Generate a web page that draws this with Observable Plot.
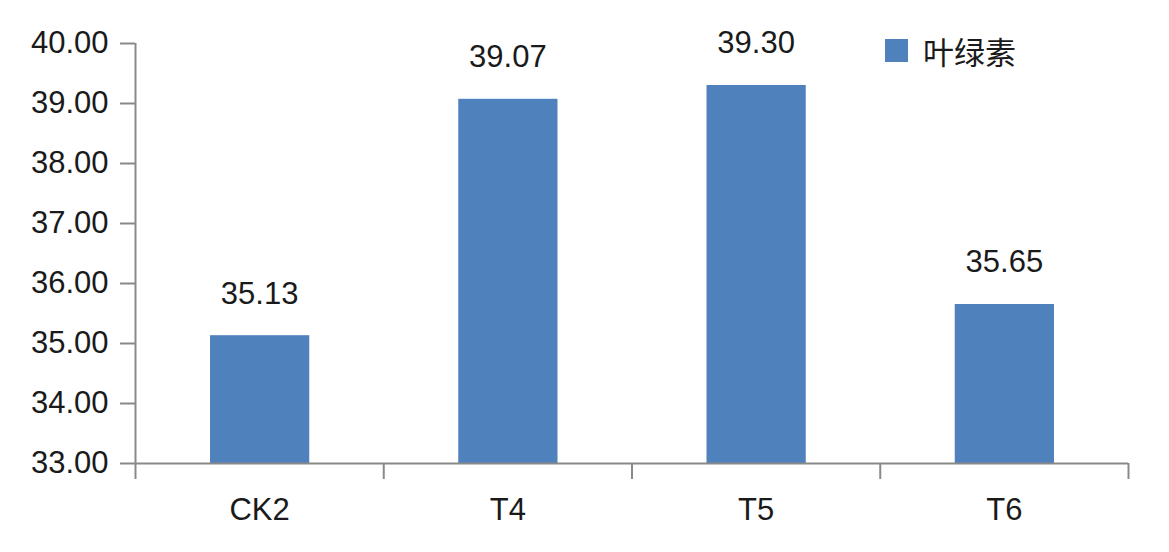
<!DOCTYPE html>
<html>
<head>
<meta charset="utf-8">
<script src="https://cdn.jsdelivr.net/npm/d3@7"></script>
<script src="https://cdn.jsdelivr.net/npm/@observablehq/plot@0.6"></script>
<style>
  html, body { margin: 0; padding: 0; background: #fff; }
  #wrap { position: relative; width: 1169px; height: 552px; }
  #legend { position: absolute; left: 885px; top: 28px; display: flex; align-items: center;
    font-family: "Noto Sans CJK SC", sans-serif; font-size: 31px; color: #1a1a1a; }
  #legend .sw { width: 23px; height: 23px; background: #4f81bd; margin-right: 15px; }
</style>
</head>
<body>
<div id="wrap">
  <div id="chart"></div>
  <div id="legend"><div class="sw"></div><span id="lname"></span></div>
</div>
<script>
const categories = ["CK2", "T4", "T5", "T6"];
const values = [35.13, 39.07, 39.30, 35.65];
const yTicks = [33, 34, 35, 36, 37, 38, 39, 40];
const seriesName = "叶绿素";
document.getElementById("lname").textContent = seriesName;

const data = categories.map((c, i) => ({cat: c, i, value: values[i]}));
const axisColor = "#898989";
const textColor = "#1a1a1a";
const font = "Liberation Sans, Arial, sans-serif";

const chart = Plot.plot({
  width: 1169,
  height: 552,
  marginLeft: 135,
  marginRight: 41,
  marginTop: 43,
  marginBottom: 89,
  style: {fontFamily: font, background: "#fff", overflow: "visible"},
  x: {domain: [0, categories.length], axis: null},
  y: {domain: [33, 40], axis: null},
  marks: [
    Plot.rect(data, {x1: "i", x2: d => d.i + 1, y1: 33, y2: "value", fill: "#4f81bd", insetLeft: 75, insetRight: 74}),
    Plot.ruleY([33], {stroke: axisColor, strokeWidth: 2}),
    Plot.ruleX([0], {stroke: axisColor, strokeWidth: 2}),
    Plot.axisY({ticks: yTicks, tickSize: 15, tickPadding: 12, tickFormat: d => d.toFixed(2), stroke: axisColor, strokeWidth: 2, color: textColor, fill: textColor, fontSize: 31, label: null}),
    Plot.axisX({ticks: d3.range(0, categories.length + 1), tickSize: 16, tickFormat: () => "", stroke: axisColor, strokeWidth: 2, label: null}),
    Plot.text(data, {x: d => d.i + 0.5, y: 33, text: "cat", dy: 47, fontSize: 31, fill: textColor}),
    Plot.text(data, {x: d => d.i + 0.5, y: "value", text: d => d.value.toFixed(2), dy: -42, fontSize: 31, fill: textColor})
  ]
});
document.getElementById("chart").appendChild(chart);
</script>
</body>
</html>
